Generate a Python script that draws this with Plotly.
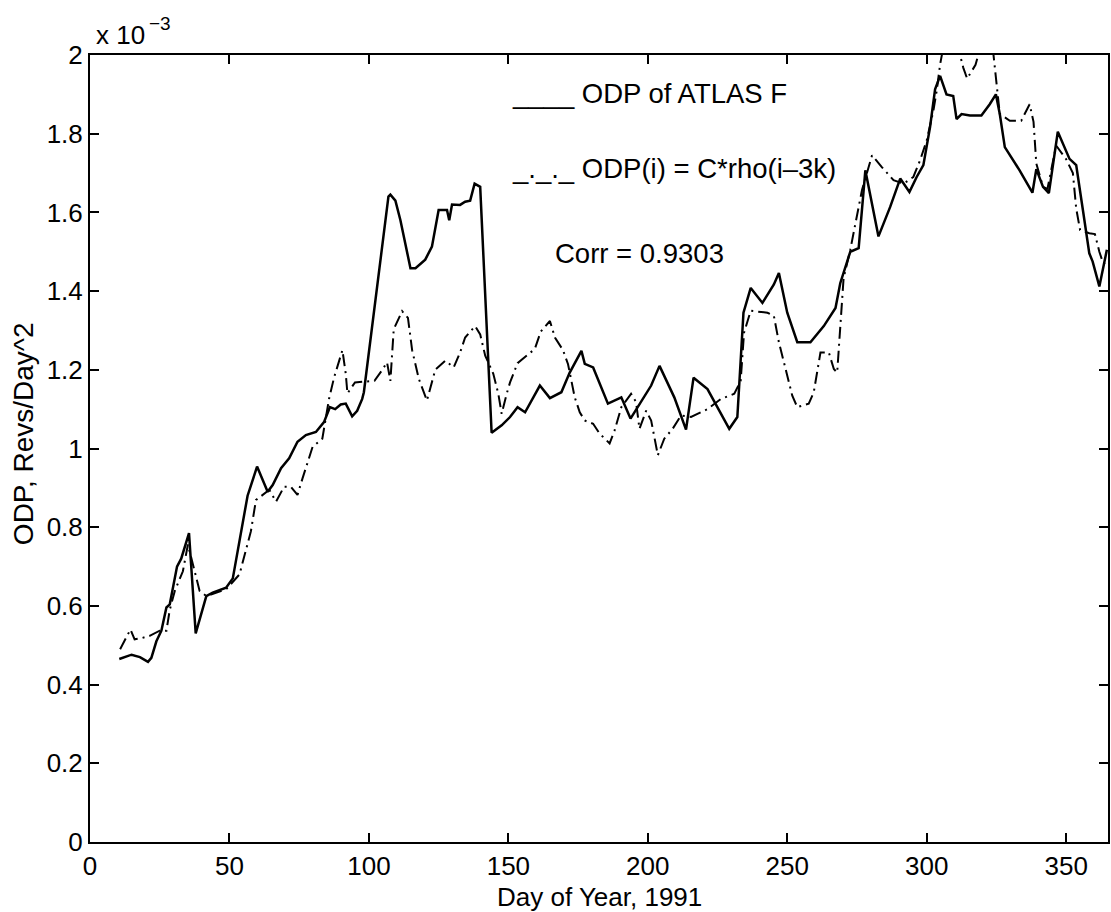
import plotly.graph_objects as go

# ---------------- data (values in units of 1e-3 Revs/Day^2) ----------------
atlas_day = [10.5, 14.9, 17.9, 20.8, 22.0, 23.8, 25.6, 27.4, 28.6, 31.2, 32.7, 35.5, 37.9,
             41.7, 44.0, 48.8, 51.2, 56.5, 59.9, 63.7, 65.5, 68.5, 71.4, 74.4, 77.4, 81.0,
             83.9, 86.0, 87.9, 89.9, 91.7, 94.0, 95.8, 97.6, 98.2, 107.0, 107.7, 109.5,
             111.3, 114.9, 116.7, 120.2, 122.6, 125.0, 128.0, 128.8, 129.8, 132.7, 134.5,
             136.3, 137.9, 139.9, 144.0, 147.6, 150.6, 153.3, 156.0, 161.3, 164.9, 169.0,
             172.0, 176.2, 177.4, 180.4, 185.7, 190.5, 193.8, 197.6, 201.2, 204.2, 209.5,
             213.7, 216.4, 221.4, 229.2, 232.1, 234.3, 236.9, 241.1, 245.2, 247.0, 250.0,
             253.6, 258.3, 263.1, 267.3, 269.0, 272.6, 275.6, 278.0, 282.7, 286.9, 290.5,
             293.8, 296.4, 298.8, 301.2, 303.0, 304.8, 307.1, 309.5, 310.7, 312.5, 315.5,
             319.6, 322.6, 324.8, 326.2, 328.0, 333.3, 337.9, 339.3, 341.7, 343.8, 347.0,
             351.2, 353.6, 356.0, 358.3, 359.5, 361.9, 364.6]
atlas_odp = [0.465, 0.476, 0.470, 0.458, 0.468, 0.510, 0.537, 0.596, 0.604, 0.700, 0.720, 0.785, 0.530,
             0.625, 0.634, 0.646, 0.670, 0.880, 0.954, 0.890, 0.907, 0.950, 0.975, 1.017, 1.034, 1.042,
             1.067, 1.105, 1.100, 1.112, 1.114, 1.082, 1.096, 1.126, 1.143, 1.640, 1.645, 1.630,
             1.580, 1.458, 1.458, 1.480, 1.513, 1.606, 1.606, 1.580, 1.620, 1.619, 1.627,
             1.630, 1.673, 1.665, 1.040, 1.059, 1.080, 1.105, 1.092, 1.160, 1.128, 1.143,
             1.193, 1.248, 1.215, 1.206, 1.114, 1.130, 1.076, 1.118, 1.160, 1.210, 1.130,
             1.048, 1.180, 1.151, 1.050, 1.080, 1.345, 1.408, 1.370, 1.417, 1.446, 1.345,
             1.270, 1.270, 1.311, 1.357, 1.420, 1.500, 1.509, 1.707, 1.539, 1.614, 1.686,
             1.652, 1.690, 1.720, 1.817, 1.913, 1.947, 1.900, 1.896, 1.837, 1.850, 1.846,
             1.846, 1.875, 1.900, 1.850, 1.766, 1.707, 1.650, 1.710, 1.665, 1.649, 1.805,
             1.736, 1.720, 1.606, 1.496, 1.475, 1.412, 1.505]

rho_day = [10.8, 14.5, 16.0, 18.5, 21.4, 25.0, 27.4, 28.6, 30.4, 33.3, 35.1, 36.3, 39.3, 41.7,
           48.8, 53.6, 57.7, 59.5, 64.3, 66.7, 69.6, 72.0, 74.4, 76.2, 79.8, 83.3, 85.7, 87.5,
           90.5, 91.7, 92.3, 95.0, 98.5, 102.0, 104.8, 106.5, 107.7, 108.9, 111.9, 114.0, 115.5,
           117.9, 120.8, 123.8, 127.4, 130.4, 132.7, 134.5, 138.1, 139.9, 141.7, 144.6, 146.4,
           147.6, 149.4, 150.6, 153.3, 157.1, 159.5, 161.6, 164.9, 166.7, 169.6, 171.4, 173.8,
           175.6, 177.4, 180.4, 182.7, 186.3, 188.1, 190.5, 194.0, 195.8, 197.0, 199.4, 201.2,
           203.6, 205.9, 208.9, 211.9, 215.5, 221.4, 226.2, 231.0, 233.3, 234.5, 236.9, 242.9,
           245.2, 247.0, 249.4, 251.8, 253.6, 257.7, 259.5, 261.9, 264.9, 266.7, 267.9, 269.0,
           270.2, 272.6, 273.8, 276.8, 280.4, 283.9, 288.1, 291.7, 295.2, 297.6, 300.0, 302.4,
           303.6, 304.8, 307.0, 310.5, 313.1, 314.5, 317.5, 320.0, 323.5, 325.0, 326.2, 329.8,
           333.9, 336.9, 338.3, 339.3, 341.7, 343.3, 346.4, 350.0, 352.4, 353.6, 355.0, 358.3,
           360.3, 361.9, 363.3, 365.0]
rho_odp = [0.490, 0.540, 0.515, 0.518, 0.524, 0.537, 0.537, 0.590, 0.638, 0.688, 0.756, 0.722, 0.638, 0.625,
           0.642, 0.680, 0.790, 0.869, 0.895, 0.865, 0.903, 0.903, 0.882, 0.924, 1.004, 1.025, 1.126, 1.180,
           1.250, 1.190, 1.140, 1.168, 1.170, 1.172, 1.200, 1.219, 1.172, 1.303, 1.349, 1.332, 1.250,
           1.177, 1.122, 1.200, 1.223, 1.206, 1.244, 1.282, 1.311, 1.290, 1.236, 1.190, 1.139,
           1.088, 1.139, 1.168, 1.217, 1.238, 1.253, 1.297, 1.324, 1.282, 1.250, 1.214, 1.130,
           1.092, 1.071, 1.063, 1.038, 1.013, 1.046, 1.105, 1.139, 1.118, 1.050, 1.096, 1.071,
           0.983, 1.025, 1.050, 1.084, 1.080, 1.100, 1.126, 1.139, 1.172, 1.294, 1.350, 1.345,
           1.337, 1.270, 1.202, 1.134, 1.105, 1.114, 1.143, 1.244, 1.244, 1.202, 1.193, 1.303,
           1.433, 1.505, 1.551, 1.657, 1.745, 1.715, 1.682, 1.673, 1.690, 1.732, 1.783, 1.859,
           1.910, 1.976, 2.060, 2.040, 1.968, 1.940, 1.975, 2.040, 2.030, 1.920, 1.850, 1.833,
           1.833, 1.875, 1.830, 1.724, 1.665, 1.660, 1.770, 1.735, 1.700, 1.610, 1.555, 1.547,
           1.545, 1.500, 1.470, 1.475]

x_ticks = [0, 50, 100, 150, 200, 250, 300, 350]
y_ticks = [0, 0.2, 0.4, 0.6, 0.8, 1.0, 1.2, 1.4, 1.6, 1.8, 2.0]
y_tick_text = ["0", "0.2", "0.4", "0.6", "0.8", "1", "1.2", "1.4", "1.6", "1.8", "2"]

legend_solid = "____ ODP of ATLAS F"
legend_dash = "_._._ ODP(i) = C*rho(i\u20133k)"
corr_text = "Corr = 0.9303"
x_title = "Day of Year, 1991"
y_title = "ODP, Revs/Day^2"

# ---------------- layout geometry ----------------
W, H = 1111, 912
ML, MR, MT, MB = 90, 1, 55, 70
PW, PH = W - ML - MR, H - MT - MB
FONT = "Liberation Sans, Arial, Helvetica, sans-serif"


def px(x):
    return (x - ML) / PW


def py(y):
    return (H - MB - y) / PH


fig = go.Figure()
fig.add_trace(go.Scatter(x=atlas_day, y=atlas_odp, mode="lines",
                         line=dict(color="black", width=2.5), showlegend=False))
fig.add_trace(go.Scatter(x=rho_day, y=rho_odp, mode="lines",
                         line=dict(color="black", width=2, dash="12px,5px,2px,5px"),
                         showlegend=False))

axis_common = dict(showline=True, linecolor="black", linewidth=2, mirror="ticks",
                   ticks="inside", ticklen=9, tickwidth=1.5, tickcolor="black",
                   showgrid=False, zeroline=False,
                   tickfont=dict(family=FONT, size=26, color="black"))

fig.update_xaxes(range=[0, 365], tickvals=x_ticks, ticklabelstandoff=0, **axis_common)
fig.update_yaxes(range=[0, 2], tickvals=y_ticks, ticktext=y_tick_text,
                 ticklabelstandoff=0, **axis_common)

ann = []


def add_text(text, x, y, size=26, xanchor="left", yanchor="middle", angle=0):
    ann.append(dict(text=text, x=px(x), y=py(y), xref="paper", yref="paper",
                    xanchor=xanchor, yanchor=yanchor, showarrow=False, textangle=angle,
                    font=dict(family=FONT, size=size, color="black")))


add_text(legend_solid, 511, 94, size=27.5)
add_text(legend_dash, 511, 169, size=27.5)
add_text(corr_text, 554, 253, size=27.5)
add_text("x 10", 94, 35)
add_text("\u22123", 147, 23, size=19)
add_text(x_title, 601, 897, size=26, xanchor="center")
add_text(y_title, 23, 434, size=28, xanchor="center", angle=-90)

fig.update_layout(width=W, height=H, autosize=False,
                  margin=dict(l=ML, r=MR, t=MT, b=MB, pad=0),
                  paper_bgcolor="white", plot_bgcolor="white",
                  font=dict(family=FONT, size=26, color="black"),
                  annotations=ann)

fig.write_html("out.html")
